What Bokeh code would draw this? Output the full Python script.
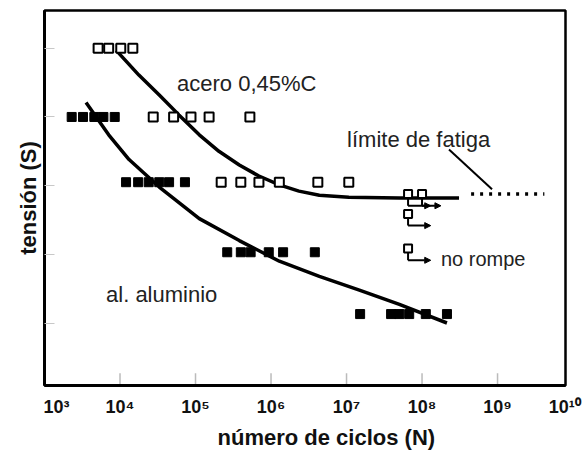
import numpy as np
from bokeh.plotting import figure
from bokeh.models import Range1d, FixedTicker, Label, Arrow, NormalHead, Title
from bokeh.embed import file_html
from bokeh.resources import INLINE

# ---- data (x as log10 of number of cycles, y as stress level) ----
acero_logN = [3.71, 3.85, 4.01, 4.17,
              4.44, 4.71, 4.94, 5.18, 5.72,
              5.34, 5.60, 5.84, 6.11, 6.62, 7.03]
acero_S = [5.0] * 4 + [4.0] * 5 + [3.05] * 6

alum_logN = [3.36, 3.51, 3.66, 3.78, 3.93,
             4.08, 4.24, 4.38, 4.52, 4.65, 4.86,
             5.42, 5.60, 5.73, 5.97, 6.16, 6.58,
             7.18, 7.59, 7.70, 7.83, 8.05, 8.33]
alum_S = [4.0] * 5 + [3.05] * 6 + [2.03] * 6 + [1.13] * 6

runout_logN = [7.815, 8.0, 7.815, 7.815]
runout_S = [2.877, 2.877, 2.588, 2.083]

acero_curve_logN = [3.95, 4.25, 4.52, 4.78, 5.05, 5.31, 5.58, 5.84, 6.11, 6.37, 6.64, 7.03, 7.70, 8.49]
acero_curve_S = [4.97, 4.61, 4.32, 4.03, 3.74, 3.50, 3.30, 3.14, 3.01, 2.92, 2.86, 2.83, 2.82, 2.82]

alum_curve_logN = [3.55, 3.85, 4.12, 4.52, 5.05, 5.58, 6.11, 6.64, 7.17, 7.70, 8.33]
alum_curve_S = [4.21, 3.74, 3.38, 2.98, 2.52, 2.20, 1.90, 1.68, 1.48, 1.27, 1.00]

fatigue_limit_logN = [8.65, 9.62]
fatigue_limit_S = [2.877, 2.877]

x_tick_exp = [3, 4, 5, 6, 7, 8, 9, 10]
x_tick_labels = ["10³", "10⁴", "10⁵", "10⁶", "10⁷", "10⁸", "10⁹", "10¹⁰"]
y_ticks = [1, 2, 3, 4, 5]

FONT = "Liberation Sans"
X_LO, X_HI = 3.0, 9.9
Y_LO, Y_HI = 0.09, 5.55

def N(vals):
    return [10 ** v for v in vals]

p = figure(width=587, height=452, x_axis_type="log",
           x_range=Range1d(10 ** X_LO, 10 ** X_HI), y_range=Range1d(Y_LO, Y_HI),
           output_backend="svg", toolbar_location=None,
           min_border_left=44, min_border_right=22, min_border_top=10, min_border_bottom=64)
p.background_fill_color = "white"
p.border_fill_color = "white"
p.xgrid.visible = False
p.ygrid.visible = False
p.outline_line_color = "black"
p.outline_line_width = 2.5

# x axis: label positions kept inside the frame (first/last are at the frame edges)
label_pos = [min(max(e, X_LO + 0.16), X_HI - 0.01) for e in x_tick_exp]
p.xaxis.ticker = FixedTicker(ticks=N(label_pos), minor_ticks=[])
p.xaxis.major_label_overrides = {10 ** e: lab for e, lab in zip(label_pos, x_tick_labels)}
p.xaxis.major_label_text_font = FONT
p.xaxis.major_label_text_font_style = "bold"
p.xaxis.major_label_text_font_size = "18px"
p.xaxis.major_label_text_color = "#111111"
p.xaxis.major_label_standoff = 5
p.xaxis.major_tick_line_color = None
p.xaxis.minor_tick_line_color = None
p.xaxis.axis_line_width = 3

# tick marks of the x axis (inner ticks at the decades)
inner = [e for e in x_tick_exp if X_LO < e < X_HI]
p.segment(x0=N(inner), y0=[Y_LO] * len(inner), x1=N(inner), y1=[Y_LO + 0.18] * len(inner),
          line_color="#bbbbbb", line_width=1.5)

p.add_layout(Title(text="número de ciclos (N)", align="left", offset=173,
                   text_font=FONT, text_font_size="22px", text_font_style="bold",
                   text_color="#111111", standoff=6), "below")

# y axis
p.yaxis.ticker = FixedTicker(ticks=y_ticks, minor_ticks=[])
p.yaxis.major_label_overrides = {t: "" for t in y_ticks}
p.yaxis.major_label_standoff = 0
p.yaxis.major_tick_in = 10
p.yaxis.major_tick_out = 0
p.yaxis.major_tick_line_color = "#c8c8c8"
p.yaxis.minor_tick_line_color = None
p.yaxis.axis_line_width = 3

p.add_layout(Title(text="tensión (S)", align="center", offset=-9,
                   text_font=FONT, text_font_size="22px", text_font_style="bold",
                   text_color="#111111", standoff=8), "left")

# curves
p.line(N(acero_curve_logN), acero_curve_S, line_color="black", line_width=3.5)
p.line(N(alum_curve_logN), alum_curve_S, line_color="black", line_width=3.5)
p.line(N(fatigue_limit_logN), fatigue_limit_S, line_color="black", line_width=3.5, line_dash="3 6")

# leader line from "límite de fatiga"
p.line(N([8.357, 8.927]), [3.527, 2.949], line_color="black", line_width=2)

# points
p.scatter(N(alum_logN), alum_S, marker="square", size=9, fill_color="black", line_color="black")
p.scatter(N(acero_logN), acero_S, marker="square", size=9, fill_color="white",
          line_color="black", line_width=2)

# run-outs ("no rompe")
arrow_len = [0.30, 0.25, 0.30, 0.30]
for lx, s, dl in zip(runout_logN, runout_S, arrow_len):
    y_arrow = s - 0.17
    p.line([10 ** lx, 10 ** lx], [s - 0.06, y_arrow], line_color="black", line_width=2)
    p.add_layout(Arrow(end=NormalHead(size=6, fill_color="black", line_color="black"),
                       x_start=10 ** lx, y_start=y_arrow, x_end=10 ** (lx + dl), y_end=y_arrow,
                       line_color="black", line_width=2))
p.scatter(N(runout_logN), runout_S, marker="square", size=8, fill_color="white",
          line_color="black", line_width=2)

# annotations
def add_text(txt, lx, y, size="22px"):
    p.add_layout(Label(x=10 ** lx, y=y, text=txt, text_font=FONT, text_font_size=size,
                       text_color="#222222", text_align="left", text_baseline="alphabetic"))

add_text("acero 0,45%C", 4.755, 4.48)
add_text("límite de fatiga", 7.007, 3.67)
add_text("al. aluminio", 3.815, 1.42)
add_text("no rompe", 8.25, 1.93, size="20px")

open("out.html", "w").write(file_html(p, INLINE))
